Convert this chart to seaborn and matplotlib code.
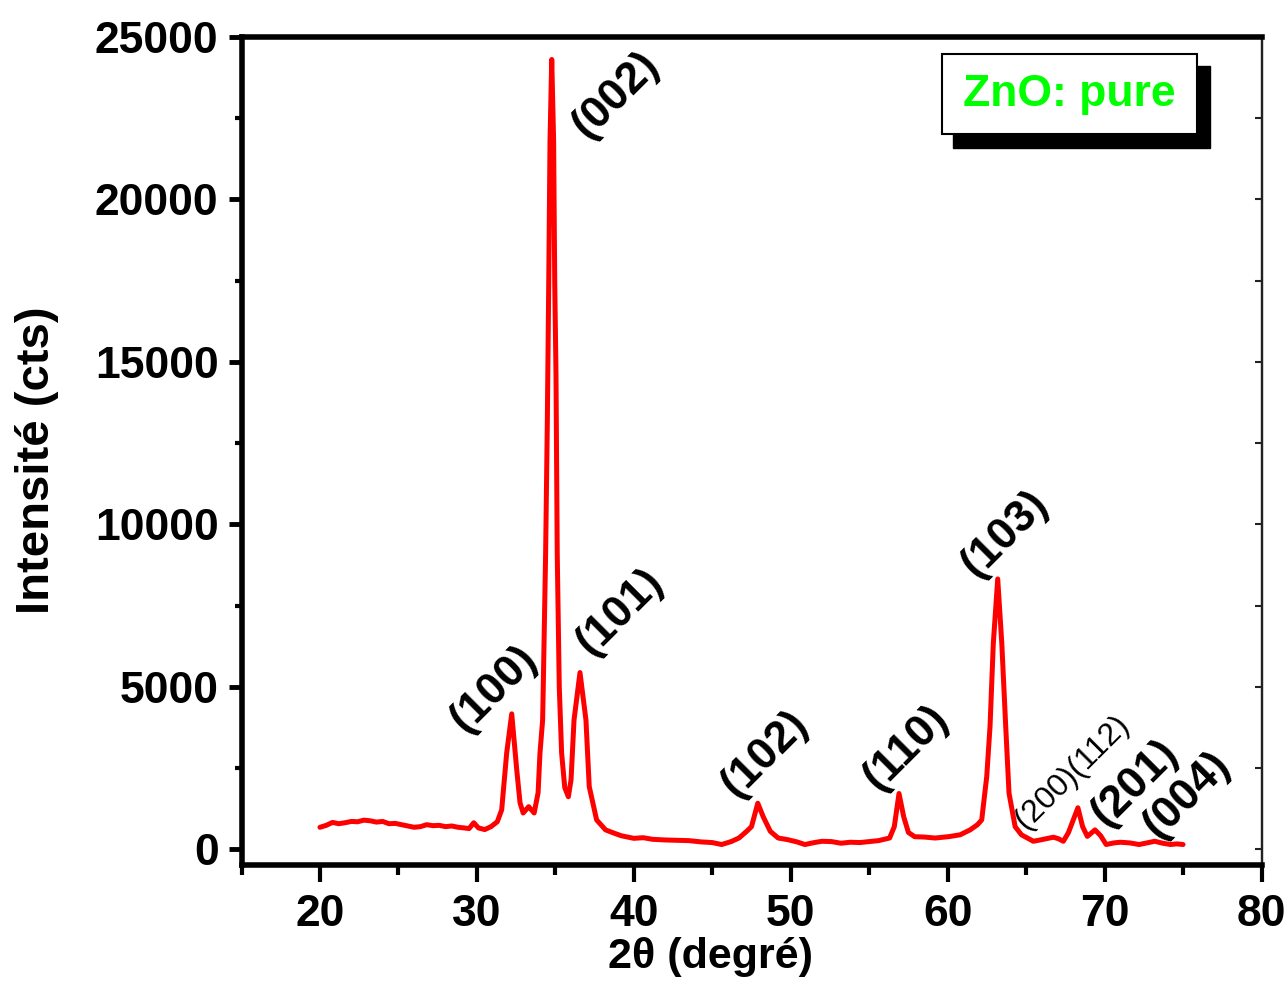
import numpy as np
import pandas as pd
import matplotlib
matplotlib.use("Agg")
import matplotlib.pyplot as plt
from matplotlib.patches import Rectangle
from matplotlib.ticker import MultipleLocator
import seaborn as sns

# XRD pattern of pure ZnO: diffraction angle (deg) and intensity (counts)
two_theta = [
    20.0, 20.4, 20.8, 21.2, 21.6, 22.0, 22.4, 22.8, 23.2, 23.6, 24.0, 24.4,
    24.8, 25.2, 25.6, 26.0, 26.4, 26.8, 27.2, 27.6, 28.0, 28.4, 28.8, 29.2,
    29.5, 29.8, 30.1, 30.5, 30.9, 31.3, 31.58, 31.9, 32.22, 32.54, 32.75,
    32.95, 33.3, 33.65, 33.9, 34.02, 34.19, 34.23, 34.38, 34.49, 34.58,
    34.66, 34.77, 34.89, 34.96, 35.04, 35.12, 35.25, 35.40, 35.6, 35.83,
    36.0, 36.19, 36.57, 36.95, 37.16, 37.63, 38.2, 38.7, 39.2, 40.0, 40.6,
    41.2, 42.0, 42.8, 43.5, 44.3, 45.0, 45.6, 46.2, 46.7, 47.2, 47.5, 47.9,
    48.25, 48.7, 49.2, 49.8, 50.4, 50.9, 51.5, 52.0, 52.6, 53.2, 53.8, 54.4,
    55.0, 55.6, 56.3, 56.6, 56.9, 57.2, 57.5, 57.9, 58.5, 59.2, 60.1, 60.8,
    61.43, 61.9, 62.17, 62.49, 62.70, 62.91, 63.19, 63.45, 63.70, 63.91,
    64.3, 64.7, 65.46, 66.0, 66.74, 67.05, 67.37, 67.69, 68.3, 68.6, 68.9,
    69.1, 69.39, 69.75, 70.1, 70.6, 71.0, 71.6, 72.2, 72.7, 73.2, 73.7,
    74.2, 74.6, 75.0,
]
intensity = [
    680, 740, 830, 790, 820, 860, 850, 900, 880, 840, 860, 790,
    800, 760, 720, 680, 700, 760, 730, 740, 700, 720, 680, 660,
    640, 820, 660, 610, 700, 850, 1215, 2970, 4170, 2445, 1430,
    1120, 1315, 1120, 1740, 2960, 3980, 5000, 9100, 13200, 17500,
    21800, 24300, 21800, 17500, 14650, 9100, 5000, 2960, 1900, 1620,
    2140, 3980, 5440, 3980, 1930, 907, 600, 507, 420, 340, 360,
    310, 290, 280, 270, 230, 210, 150, 240, 350, 560, 700, 1420,
    1000, 555, 350, 300, 230, 150, 210, 250, 240, 190, 220, 210,
    240, 270, 350, 700, 1720, 1000, 520, 390, 380, 350, 394, 450,
    600, 760, 907, 2240, 3780, 6340, 8320, 6340, 3780, 1730,
    700, 450, 250, 300, 375, 330, 250, 510, 1280, 700, 400,
    480, 600, 420, 150, 200, 220, 200, 150, 200, 250, 190,
    150, 170, 150,
]

# Miller indices of the reflections and where their labels sit
hkl_labels = ["(100)", "(002)", "(101)", "(102)", "(110)", "(103)", "(201)", "(004)"]
hkl_x = [31.09, 38.87, 39.12, 48.36, 57.35, 63.66, 71.94, 75.26]
hkl_y = [4935, 23200, 7300, 2940, 3120, 9700, 2045, 1680]
small_label = "(200)(112)"
small_label_pos = (67.93, 2380)

x_ticks = [20, 30, 40, 50, 60, 70, 80]
y_ticks = [0, 5000, 10000, 15000, 20000, 25000]

df = pd.DataFrame({"two_theta": two_theta, "intensity": intensity})

sns.set_style("ticks")
plt.rcParams["font.family"] = ["Liberation Sans", "DejaVu Sans"]
plt.rcParams["font.weight"] = "bold"
for key in ["text.color", "axes.labelcolor", "xtick.color", "ytick.color",
            "axes.edgecolor"]:
    plt.rcParams[key] = "black"

fig = plt.figure(figsize=(12.88, 10.06), dpi=100)
ax = fig.add_axes([0.1875, 0.14016, 0.79193, 0.82336])

sns.lineplot(data=df, x="two_theta", y="intensity", ax=ax, color="#ff0000",
             linewidth=3.6, sort=False, estimator=None, solid_joinstyle="round")

ax.set_xlim(15, 80)
ax.set_ylim(-480, 25000)
ax.set_xticks(x_ticks)
ax.set_yticks(y_ticks)
ax.xaxis.set_minor_locator(MultipleLocator(5))
ax.yaxis.set_minor_locator(MultipleLocator(2500))

for side in ["left", "bottom", "top"]:
    ax.spines[side].set_linewidth(4.0)
    ax.spines[side].set_color("black")
ax.spines["right"].set_linewidth(1.6)
ax.spines["right"].set_color("#222222")

ax.tick_params(axis="x", which="major", direction="out", length=12, width=3,
               pad=9, labelsize=32, colors="black")
ax.tick_params(axis="x", which="minor", direction="out", length=7, width=3,
               colors="black")
ax.tick_params(axis="y", which="major", direction="out", length=9.5, width=3.5,
               pad=7, labelsize=32, colors="black")
ax.tick_params(axis="y", which="minor", direction="out", length=5, width=3,
               colors="black")
for lab in ax.get_xticklabels() + ax.get_yticklabels():
    lab.set_fontweight("bold")

# short inward ticks on the right frame
sec = ax.secondary_yaxis("right")
sec.set_yticks(y_ticks)
sec.yaxis.set_minor_locator(MultipleLocator(2500))
sec.tick_params(which="both", direction="in", length=5, width=1.5,
                labelright=False, colors="#222222")
sec.spines["right"].set_linewidth(1.6)
sec.spines["right"].set_color("#222222")

ax.set_xlabel("2θ (degré)", fontsize=31, fontweight="bold", color="black")
ax.set_ylabel("Intensité (cts)", fontsize=34, fontweight="bold", color="black")
ax.xaxis.set_label_coords(0.460, -0.111)
ax.xaxis.label.set_va("center")
ax.yaxis.set_label_coords(-0.2005, 0.489)
ax.yaxis.label.set_va("center")
ax.yaxis.label.set_ha("center")

for text, x, y in zip(hkl_labels, hkl_x, hkl_y):
    ax.text(x, y, text, rotation=45, ha="center", va="center",
            fontsize=32, fontweight="bold", color="black")
ax.text(small_label_pos[0], small_label_pos[1], small_label, rotation=45,
        ha="center", va="center", fontsize=23, fontweight="normal", color="black")

# sample label box with drop shadow
ax.add_patch(Rectangle((0.6975, 0.8656), 0.2520, 0.0990, transform=ax.transAxes,
                       facecolor="black", edgecolor="black", zorder=5))
ax.add_patch(Rectangle((0.6868, 0.8825), 0.2500, 0.0966, transform=ax.transAxes,
                       facecolor="white", edgecolor="black", linewidth=1.5, zorder=6))
ax.text(0.8118, 0.9308, "ZnO: pure", transform=ax.transAxes, ha="center",
        va="center", fontsize=32, fontweight="bold", color="#00ff00", zorder=7)

fig.savefig("out.png", dpi=100)
